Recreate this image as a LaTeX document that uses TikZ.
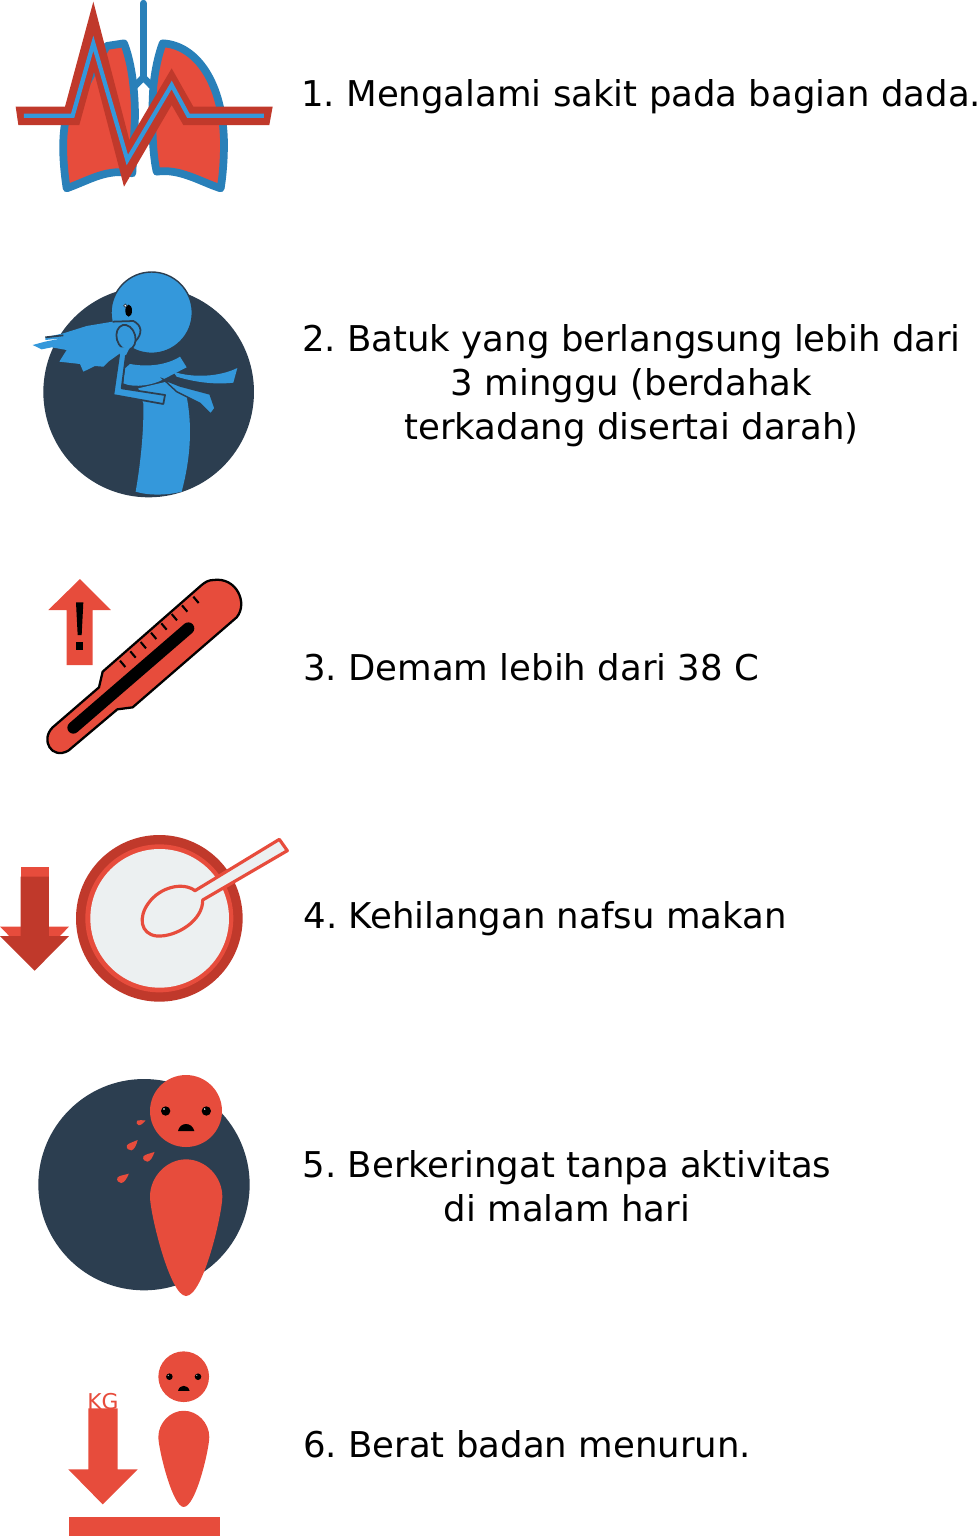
\documentclass[tikz,border=0pt]{standalone}
\usepackage{fontspec}
\setmainfont{DejaVu Sans}
\frenchspacing

\definecolor{redTB}{HTML}{e74c3c}
\definecolor{darkredTB}{HTML}{c0392b}
\definecolor{blueTB}{HTML}{3498db}
\definecolor{deepblueTB}{HTML}{2980b9}
\definecolor{navyTB}{HTML}{2c3e50}
\definecolor{greyTB}{HTML}{ecf0f1}

\tikzset{
 symptom/.style = {font=\fontsize{10.1}{12.5}\selectfont, align=center, inner sep=0pt},
 sadperson/.pic = {
  \fill[redTB] (0,0) circle (108);
  \foreach \x in {-61,61} {
   \fill[black] (\x,0) circle (14);
   \fill[white] (\x-5,-6) circle (2.5);
  }
  \fill[black] (-24,60) .. controls (-18,32) and (18,32) .. (25,60) -- cycle;
  \fill[redTB] (-108,257) .. controls (-108,197) and (-58,145) .. (0,145)
   .. controls (59,145) and (109,197) .. (109,257)
   .. controls (109,307) and (52,555) .. (0,555)
   .. controls (-48,555) and (-108,307) .. (-108,257) -- cycle;
 }
}

\begin{document}
\begin{tikzpicture}[x=0.01cm,y=-0.01cm]
\useasboundingbox (0,0) rectangle (977,1536);

% lungs
\begin{scope}[scale=1/3]
\draw[deepblueTB, line width=2pt, line cap=round] (430,10) -- (430,228);
\draw[deepblueTB, line width=1.9pt] (405,258) -- (430,232) -- (455,258);
\draw[deepblueTB, fill=redTB, line width=2.2pt, line join=round] (372,130)
 .. controls (392,180) and (405,260) .. (405,350) -- (397,520)
 .. controls (320,505) and (270,540) .. (200,565)
 .. controls (190,500) and (185,430) .. (195,370) -- (320,138) -- cycle;
\draw[deepblueTB, fill=redTB, line width=2.2pt, line join=round] (488,130)
 .. controls (590,135) and (670,250) .. (672,430)
 .. controls (672,480) and (668,530) .. (662,565)
 .. controls (600,545) and (540,505) .. (470,515)
 .. controls (455,450) and (455,340) .. (460,260)
 .. controls (465,210) and (475,165) .. (488,130) -- cycle;
\fill[darkredTB] (47,320) -- (195,320) -- (280,5) -- (388,420) -- (515,205) -- (580,320)
 -- (818,320) -- (808,375) -- (550,375) -- (515,315) -- (372,560) -- (282,215)
 -- (238,375) -- (55,375) -- cycle;
\draw[blueTB, line width=1.2pt] (72,347) -- (218,347) -- (280,130) -- (382,480)
 -- (515,255) -- (565,347) -- (792,347);
\end{scope}

% cough
\begin{scope}[shift={(20,260)},scale=1/3]
\fill[navyTB] (386,396) circle (316);
\draw[navyTB, fill=blueTB, line width=.4pt] (395,158) circle (122);
\fill[blueTB] (370,430) .. controls (372,520) and (360,620) .. (347,695)
 .. controls (390,708) and (445,705) .. (485,695)
 .. controls (510,600) and (520,500) .. (497,395) -- (440,365) -- (355,385) -- cycle;
\fill[blueTB] (330,312) .. controls (385,322) and (440,315) .. (480,290) -- (500,322)
 -- (455,345) -- (430,358) .. controls (400,375) and (345,385) .. (310,370) -- (315,325) -- cycle;
\fill[blueTB] (460,335) .. controls (520,355) and (600,350) .. (652,324) -- (640,368)
 .. controls (580,375) and (520,365) .. (470,350) -- cycle;
\draw[navyTB, fill=blueTB, line width=.4pt] (430,358) -- (480,378) -- (570,402) -- (585,445)
 -- (572,462) -- (540,430) -- (470,395) -- cycle;
\draw[navyTB, fill=blueTB, line width=.5pt, line join=round] (298,280) -- (280,405) -- (430,432)
 -- (435,405) -- (305,385) -- (320,270);
\fill[blueTB] (278,185) -- (340,183) .. controls (365,195) and (370,220) .. (330,262) -- (300,280)
 -- (265,305) -- (250,320) -- (225,318) -- (190,335) -- (180,312) -- (118,305) -- (140,270)
 -- (95,262) -- (65,268) -- (38,255) -- (75,245) -- (125,235) -- (76,240) -- (76,232) -- (130,220)
 -- (200,198) -- cycle;
\draw[navyTB, line width=.5pt] (278,185) -- (340,183) .. controls (365,195) and (370,220) .. (345,245);
\draw[navyTB, line width=.5pt] (76,232) -- (130,226);
\draw[navyTB, fill=blueTB, line width=.5pt, rotate around={15:(318,232)}] (318,232) ellipse (28 and 38);
\fill[blueTB] (300,262) -- (330,262) -- (318,285) -- (300,285) -- cycle;
\fill[black] (326,152) ellipse (10 and 18);
\draw[navyTB, fill=white, line width=.2pt] (316,137) circle (5);
\end{scope}

% thermometer
\begin{scope}[shift={(30,570)},scale=1/3]
\fill[redTB] (150,27) -- (243,120) -- (188,120) -- (188,285) -- (110,285) -- (110,120) -- (55,120) -- cycle;
\fill[black] (138,97) -- (160,97) -- (155,195) -- (143,195) -- cycle;
\fill[black] (138,215) rectangle (160,240);
\draw[black, fill=redTB, line width=.65pt, line join=round] (515,45)
 -- (218,305) -- (207,352) -- (68,472)
 .. controls (30,510) and (65,570) .. (115,542)
 -- (262,418) -- (308,412) -- (620,142)
 .. controls (655,100) and (620,20) .. (550,30)
 .. controls (535,30) and (525,37) .. (515,45) -- cycle;
\draw[black, line width=3.4pt, line cap=round] (130,473) -- (475,175);
\foreach \x/\y in {270/272,301/244,332/216,363/188,394/160,425/132,456/106,490/80} {
 \draw[black, line width=.6pt] (\x,\y) -- (\x+16,\y+19);
}
\end{scope}

% plate
\begin{scope}[shift={(0,830)},scale=1/3]
\fill[redTB] (62,112) rectangle (147,290);
\fill[redTB] (0,290) -- (207,290) -- (104,395) -- cycle;
\fill[darkredTB] (62,140) -- (147,140) -- (147,318) -- (207,318) -- (104,422) -- (0,318) -- (62,318) -- cycle;
\fill[darkredTB] (478,265) circle (250);
\fill[redTB] (478,265) circle (222);
\fill[greyTB] (479,265) circle (208);
\draw[redTB, fill=greyTB, line width=.9pt, line join=round] (585,182) -- (838,28) -- (862,62) -- (608,210)
 .. controls (610,270) and (530,322) .. (470,318)
 .. controls (420,312) and (415,260) .. (445,220)
 .. controls (480,170) and (550,155) .. (585,182) -- cycle;
\end{scope}

% sweating
\begin{scope}[shift={(30,1070)},scale=1/3]
\fill[navyTB] (342,344) circle (317);
\foreach \x/\y/\s/\r in {328/158/.7/-25,303/230/1/0,352/264/1/-5,274/328/1/-8} {
 \fill[redTB, shift={(\x,\y)}, rotate=\r, scale=\s] (20,-20) .. controls (6,-14) and (-8,-10) .. (-12,-4)
  .. controls (-15,5) and (-7,12) .. (1,11) .. controls (10,9) and (16,-4) .. (20,-20) -- cycle;
}
\end{scope}
\pic[scale=1/3] at (186,1111) {sadperson};

% weight
\begin{scope}[shift={(60,1345)},scale=1/3]
\fill[redTB] (85,190) -- (173,190) -- (173,373) -- (233,373) -- (128,478) -- (25,373) -- (85,373) -- cycle;
\fill[redTB] (27,515) rectangle (480,573);
\node[text=redTB, font=\fontsize{6.2}{7}\selectfont, inner sep=0pt] (labelKG) at (129,170) {KG};
\end{scope}
\pic[scale=.2347] at (183.7,1376.7) {sadperson};

\node[symptom, anchor=base west] (symptomA) at (300.5,106) {1. Mengalami sakit pada bagian dada.};
\node[symptom, anchor=center] (symptomB) at (631.5,386) {2. Batuk yang berlangsung lebih dari\\3 minggu (berdahak\\terkadang disertai darah)};
\node[symptom, anchor=base west] (symptomC) at (302.5,680) {3. Demam lebih dari 38 C};
\node[symptom, anchor=base west] (symptomD) at (303,928) {4. Kehilangan nafsu makan};
\node[symptom, anchor=center] (symptomE) at (567,1186) {5. Berkeringat tanpa aktivitas\\di malam hari};
\node[symptom, anchor=base west] (symptomF) at (302.5,1457) {6. Berat badan menurun.};
\end{tikzpicture}
\end{document}
